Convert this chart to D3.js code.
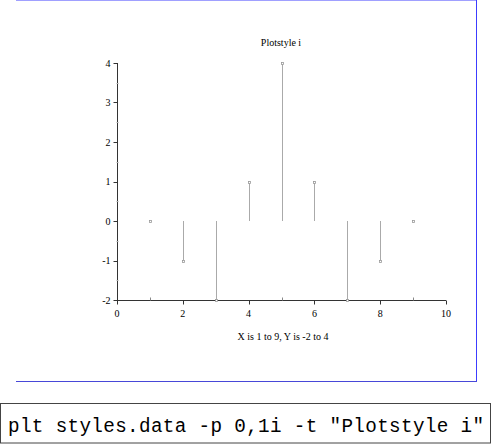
<!DOCTYPE html>
<html>
<head>
<meta charset="utf-8">
<script src="https://cdn.jsdelivr.net/npm/d3@7"></script>
<style>
  body { margin: 0; background: #fff; }
  svg { display: block; }
</style>
</head>
<body>
<div id="chart"></div>
<script>
// data
var xValues = [1, 2, 3, 4, 5, 6, 7, 8, 9];
var yValues = [0, -1, -2, 1, 4, 1, -2, -1, 0];
var xTicks = [0, 2, 4, 6, 8, 10];
var yTicks = [-2, -1, 0, 1, 2, 3, 4];
var title = "Plotstyle i";
var xTitle = "X is 1 to 9, Y is -2 to 4";
var command = 'plt styles.data -p 0,1i -t "Plotstyle i"';

var svg = d3.select("#chart")
  .append("svg")
  .attr("width", 492)
  .attr("height", 444);

// blue frame around the plot page
svg.append("line").attr("x1", 16).attr("x2", 477).attr("y1", 0.5).attr("y2", 0.5)
  .attr("stroke", "#a0a0ff").attr("stroke-width", 1);
svg.append("line").attr("x1", 476.5).attr("x2", 476.5).attr("y1", 0).attr("y2", 382)
  .attr("stroke", "#3c3cff").attr("stroke-width", 1);
svg.append("line").attr("x1", 16).attr("x2", 477).attr("y1", 381.5).attr("y2", 381.5)
  .attr("stroke", "#4848d8").attr("stroke-width", 1);

// scales
var x = d3.scaleLinear().domain([0, 10]).range([117, 446]);
var y = d3.scaleLinear().domain([-2, 4]).range([300, 63]);

var font = "'Liberation Serif', 'Times New Roman', serif";

// x axis
var xAxis = svg.append("g").attr("transform", "translate(0,300.5)");
xAxis.append("line").attr("x1", x(0)).attr("x2", x(10))
  .attr("stroke", "#333").attr("stroke-width", 1);
xAxis.selectAll(".maj").data(xTicks).enter().append("line")
  .attr("x1", d => Math.round(x(d)) + 0.5).attr("x2", d => Math.round(x(d)) + 0.5)
  .attr("y1", 0).attr("y2", 4).attr("stroke", "#333");
xAxis.selectAll(".min").data([1, 3, 5, 7, 9]).enter().append("line")
  .attr("x1", d => Math.round(x(d)) + 0.5).attr("x2", d => Math.round(x(d)) + 0.5)
  .attr("y1", 0).attr("y2", -3).attr("stroke", "#888");
xAxis.selectAll("text").data(xTicks).enter().append("text")
  .attr("x", d => x(d)).attr("y", 16)
  .attr("text-anchor", "middle")
  .style("font-family", font).style("font-size", "10px")
  .text(d => d);

// y axis
var yAxis = svg.append("g").attr("transform", "translate(117.5,0)");
yAxis.append("line").attr("y1", y(-2)).attr("y2", y(4))
  .attr("stroke", "#333");
yAxis.selectAll(".maj").data(yTicks).enter().append("line")
  .attr("y1", d => Math.round(y(d)) + 0.5).attr("y2", d => Math.round(y(d)) + 0.5)
  .attr("x1", 0).attr("x2", -4).attr("stroke", "#333");
yAxis.selectAll(".min").data([-1.5, -0.5, 0.5, 1.5, 2.5, 3.5]).enter().append("line")
  .attr("y1", d => Math.round(y(d)) + 0.5).attr("y2", d => Math.round(y(d)) + 0.5)
  .attr("x1", -1).attr("x2", 1).attr("stroke", "#aaa");
yAxis.selectAll("text").data(yTicks).enter().append("text")
  .attr("x", -7).attr("y", d => y(d) + 3.5)
  .attr("text-anchor", "end")
  .style("font-family", font).style("font-size", "10px")
  .text(d => d);

// impulses
var pts = xValues.map((v, i) => ({ x: v, y: yValues[i] }));
svg.selectAll(".imp").data(pts).enter().append("line")
  .attr("x1", d => Math.round(x(d.x)) + 0.5).attr("x2", d => Math.round(x(d.x)) + 0.5)
  .attr("y1", y(0)).attr("y2", d => y(d.y))
  .attr("stroke", "#aaa").attr("stroke-width", 1);
svg.selectAll(".pt").data(pts).enter().append("rect")
  .attr("x", d => Math.round(x(d.x)) - 0.5)
  .attr("y", d => Math.round(y(d.y)) - 0.5)
  .attr("width", 2).attr("height", 2)
  .attr("fill", "#fff").attr("stroke", "#999").attr("stroke-width", 0.8);

// titles
svg.append("text").attr("x", 281).attr("y", 46)
  .attr("text-anchor", "middle")
  .style("font-family", font).style("font-size", "10px")
  .text(title);
svg.append("text").attr("x", 283).attr("y", 340)
  .attr("text-anchor", "middle")
  .style("font-family", font).style("font-size", "10px")
  .text(xTitle);

// command box
svg.append("rect").attr("x", 0.5).attr("y", 403.5).attr("width", 490).attr("height", 39.5)
  .attr("fill", "#fff").attr("stroke", "#444").attr("stroke-width", 1);
svg.append("text").attr("x", 8).attr("y", 432)
  .attr("textLength", 476).attr("lengthAdjust", "spacing")
  .style("font-family", "'Liberation Mono', 'Courier New', monospace")
  .style("font-size", "19.3px")
  .text(command);
</script>
</body>
</html>
